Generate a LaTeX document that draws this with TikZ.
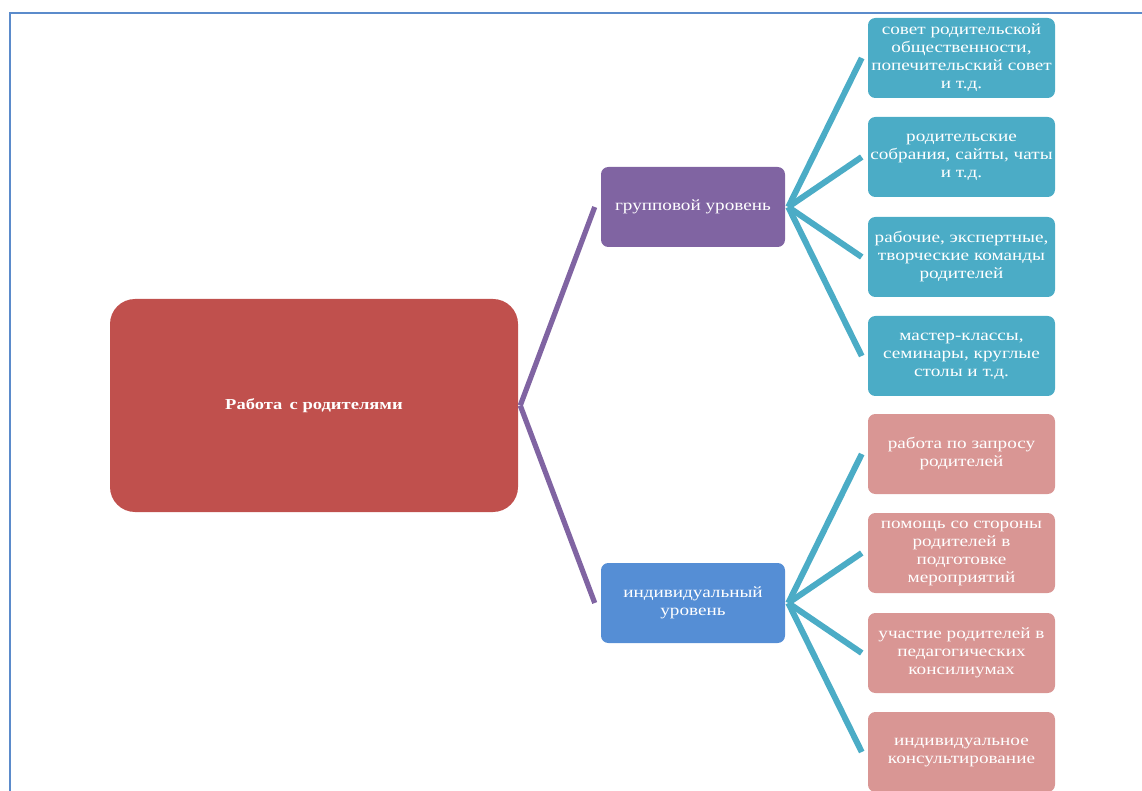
\documentclass[tikz,border=0pt]{standalone}
\usepackage{fontspec}
\setmainfont{Liberation Serif}[FakeStretch=1.22]
\usetikzlibrary{calc}
\definecolor{rootc}{HTML}{C0504D}
\definecolor{grpc}{HTML}{8064A2}
\definecolor{indc}{HTML}{558ED5}
\definecolor{tealc}{HTML}{4BACC6}
\definecolor{pinkc}{HTML}{D99694}
\definecolor{framec}{HTML}{5B8BCB}
\tikzset{
  box/.style={rectangle, rounded corners=5.5pt, inner sep=0pt, align=center,
    text=white, font=\fontsize{11.8}{13.5}\selectfont},
  rootbox/.style={box, fill=rootc, rounded corners=18.75pt, minimum width=306pt,
    minimum height=159.75pt, font=\fontsize{11.4}{13.5}\selectfont\bfseries},
  midbox/.style={box, minimum width=138pt, minimum height=60pt},
  leafbox/.style={box, minimum width=140.25pt, minimum height=60pt},
  purplelink/.style={draw=grpc, line width=3.9pt},
  teallink/.style={draw=tealc, line width=4.5pt},
}
\begin{document}
\begin{tikzpicture}[x=0.75pt, y=-0.75pt]
\useasboundingbox (0,0) rectangle (1142,791);
% frame
\draw[framec, line width=1.5pt] (9.5,795) -- (9.5,13) -- (1150,13);
% nodes
\node[rootbox] (root) at (314,405.5) {Работа\, с родителями};
\node[midbox, fill=grpc] (grp) at (693,207) {групповой уровень};
\node[midbox, fill=indc] (ind) at (693,603) {индивидуальный\\уровень};
\node[leafbox, fill=tealc] (a1) at (961.5,58) {совет родительской\\общественности,\\попечительский совет\\и т.д.};
\node[leafbox, fill=tealc] (a2) at (961.5,157) {родительские\\собрания, сайты, чаты\\и т.д.};
\node[leafbox, fill=tealc] (a3) at (961.5,257) {рабочие, экспертные,\\творческие команды\\родителей};
\node[leafbox, fill=tealc] (a4) at (961.5,356) {мастер-классы,\\семинары, круглые\\столы и т.д.};
\node[leafbox, fill=pinkc] (b1) at (961.5,454) {работа по запросу\\родителей};
\node[leafbox, fill=pinkc] (b2) at (961.5,553) {помощь со стороны\\родителей в\\подготовке\\мероприятий};
\node[leafbox, fill=pinkc] (b3) at (961.5,653) {участие родителей в\\педагогических\\консилиумах};
\node[leafbox, fill=pinkc] (b4) at (961.5,752) {индивидуальное\\консультирование};
% connectors
\draw[purplelink] ($(root.east)+(2,0)$) -- ($(grp.west)+(-6,0)$);
\draw[purplelink] ($(root.east)+(2,0)$) -- ($(ind.west)+(-6,0)$);
\foreach \c in {a1,a2,a3,a4}
  \draw[teallink] ($(grp.east)+(3,0)$) -- ($(\c.west)+(-6,0)$);
\foreach \c in {b1,b2,b3,b4}
  \draw[teallink] ($(ind.east)+(3,0)$) -- ($(\c.west)+(-6,0)$);
\end{tikzpicture}
\end{document}
